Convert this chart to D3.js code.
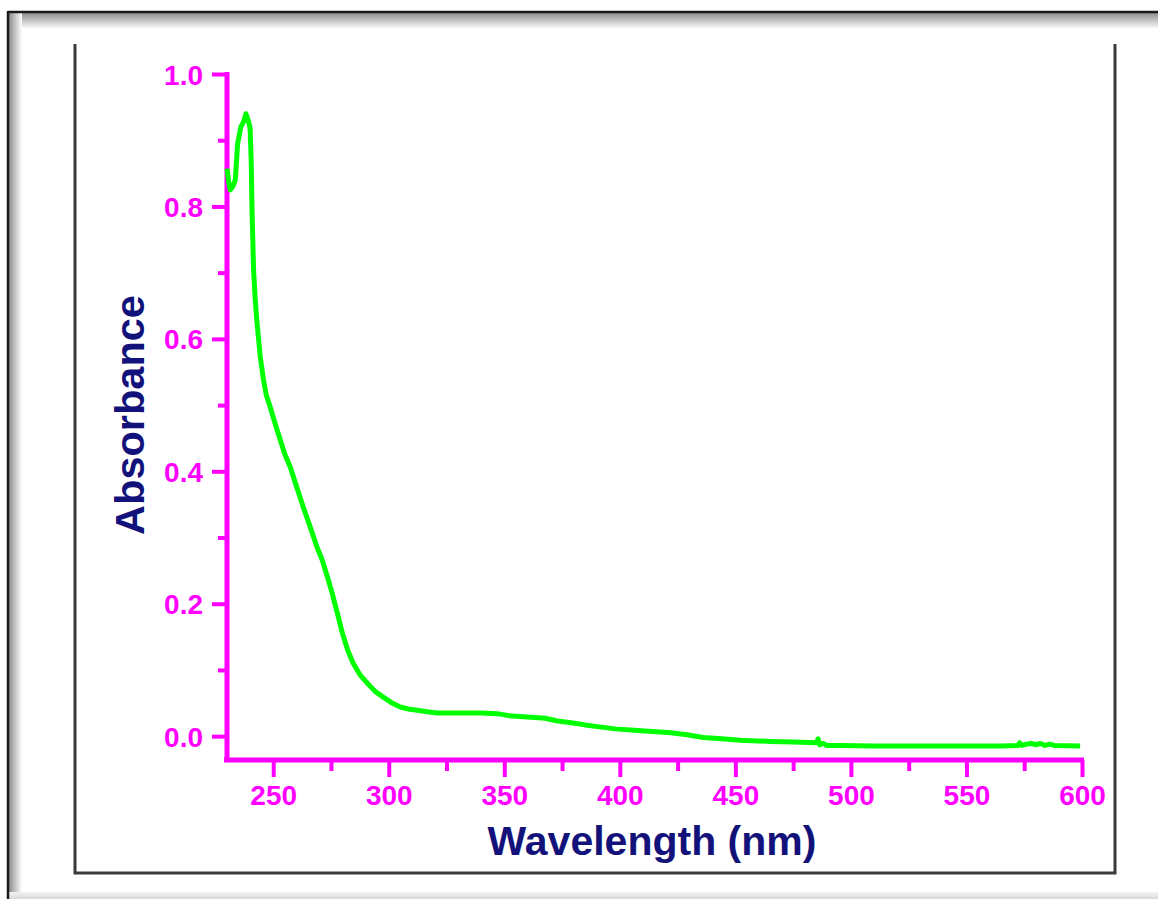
<!DOCTYPE html>
<html>
<head>
<meta charset="utf-8">
<script src="https://cdn.jsdelivr.net/npm/d3@7"></script>
<style>
  html, body { margin: 0; padding: 0; background: #ffffff; }
  svg { display: block; }
</style>
</head>
<body>
<script>
// UV-Vis absorption spectrum: wavelength (nm) vs absorbance
const wavelength = [
  230.0, 230.8, 231.4, 232.5, 233.6, 234.6, 236.0, 237.2, 238.2, 239.2,
  240.0, 240.5, 240.8, 241.5, 242.2, 242.9, 244.4, 245.8, 247.0, 248.7,
  251.0, 253.0, 255.0, 257.4, 260.0, 263.0, 266.0, 269.0, 271.2, 273.5,
  275.5, 277.8, 279.9, 282.2, 284.6, 287.5, 290.7, 294.0, 297.6, 301.0,
  305.0, 308.5, 312.3, 316.5, 321.0, 330.0, 340.0, 346.9, 352.0, 360.0,
  367.7, 373.0, 379.8, 385.0, 391.1, 398.0, 406.2, 414.0, 422.2, 429.0,
  436.1, 444.0, 452.1, 465.0, 475.0, 485.0, 485.8, 486.5, 488.0, 489.5,
  495.0, 510.0, 530.0, 550.0, 565.0, 572.4, 573.0, 574.0, 576.0, 578.0,
  580.0, 582.0, 584.0, 586.0, 588.0, 599.2
];
const absorbance = [
  0.857, 0.835, 0.825, 0.830, 0.840, 0.895, 0.920, 0.928, 0.940, 0.930,
  0.918, 0.866, 0.800, 0.704, 0.660, 0.628, 0.573, 0.538, 0.515, 0.497,
  0.470, 0.448, 0.426, 0.406, 0.378, 0.346, 0.316, 0.285, 0.266, 0.240,
  0.216, 0.185, 0.156, 0.130, 0.110, 0.093, 0.080, 0.068, 0.059, 0.051,
  0.044, 0.041, 0.039, 0.037, 0.035, 0.035, 0.035, 0.034, 0.031, 0.029,
  0.027, 0.023, 0.020, 0.017, 0.014, 0.011, 0.009, 0.007, 0.005, 0.002,
  -0.002, -0.004, -0.006, -0.008, -0.009, -0.010, -0.004, -0.013, -0.011, -0.014,
  -0.014, -0.015, -0.015, -0.015, -0.015, -0.014, -0.010, -0.014, -0.012, -0.011,
  -0.013, -0.011, -0.014, -0.012, -0.014, -0.015
];

const xMajorTicks = [250, 300, 350, 400, 450, 500, 550, 600];
const xMinorTicks = [275, 325, 375, 425, 475, 525, 575];
const yMajorTicks = [0.0, 0.2, 0.4, 0.6, 0.8, 1.0];
const yMinorTicks = [0.1, 0.3, 0.5, 0.7, 0.9];

const xTitle = "Wavelength (nm)";
const yTitle = "Absorbance";

const W = 1158, H = 899;
const AXIS = "#ff00ff";
const TITLE = "#12127a";
const LINE = "#00ff00";
const FONT = "'Liberation Sans', Arial, sans-serif";

const svg = d3.select("body").append("svg")
  .attr("width", W).attr("height", H);

const defs = svg.append("defs");
const gTop = defs.append("linearGradient").attr("id", "shadeTop")
  .attr("x1", 0).attr("y1", 0).attr("x2", 0).attr("y2", 1);
gTop.append("stop").attr("offset", "0%").attr("stop-color", "#8f8f8f");
gTop.append("stop").attr("offset", "100%").attr("stop-color", "#ffffff");
const gLeft = defs.append("linearGradient").attr("id", "shadeLeft")
  .attr("x1", 0).attr("y1", 0).attr("x2", 1).attr("y2", 0);
gLeft.append("stop").attr("offset", "0%").attr("stop-color", "#8f8f8f");
gLeft.append("stop").attr("offset", "100%").attr("stop-color", "#ffffff");
const gBot = defs.append("linearGradient").attr("id", "shadeBot")
  .attr("x1", 0).attr("y1", 0).attr("x2", 0).attr("y2", 1);
gBot.append("stop").attr("offset", "0%").attr("stop-color", "#f4f4f4");
gBot.append("stop").attr("offset", "100%").attr("stop-color", "#d8d8d8");

// page frame with inner shadow
svg.append("rect").attr("x", 9).attr("y", 13).attr("width", W - 9).attr("height", 16)
  .attr("fill", "url(#shadeTop)");
svg.append("rect").attr("x", 9).attr("y", 13).attr("width", 13).attr("height", H - 13)
  .attr("fill", "url(#shadeLeft)");
svg.append("rect").attr("x", 9).attr("y", 892).attr("width", W - 9).attr("height", 7)
  .attr("fill", "url(#shadeBot)");
svg.append("line").attr("x1", 8).attr("y1", 12).attr("x2", W).attr("y2", 12)
  .attr("stroke", "#1a1a1a").attr("stroke-width", 2.5);
svg.append("line").attr("x1", 8).attr("y1", 11).attr("x2", 8).attr("y2", H)
  .attr("stroke", "#1a1a1a").attr("stroke-width", 2.5);

// open plot frame (left, bottom, right)
svg.append("path")
  .attr("d", "M75,44 V873 H1115 V44")
  .attr("fill", "none").attr("stroke", "#3a3a3a").attr("stroke-width", 3);

// scales
const x = d3.scaleLinear().domain([230, 600]).range([227, 1082]);
const y = d3.scaleLinear().domain([-0.036, 1.0]).range([760, 74]);

// x axis
const xAxisG = svg.append("g").attr("transform", `translate(0,${y.range()[0]})`);
xAxisG.call(d3.axisBottom(x).tickValues(xMinorTicks).tickSize(11).tickFormat(""));
xAxisG.call(g => g.select(".domain").remove());
const xMajorG = svg.append("g").attr("transform", `translate(0,${y.range()[0]})`)
  .call(d3.axisBottom(x).tickValues(xMajorTicks).tickSize(17).tickSizeOuter(0)
    .tickFormat(d3.format("d")));
[xAxisG, xMajorG].forEach(g => {
  g.selectAll(".tick line").attr("stroke", AXIS).attr("stroke-width", 4);
});
xMajorG.select(".domain").attr("stroke", AXIS).attr("stroke-width", 5)
  .attr("d", `M${x.range()[0] - 3},0H${x.range()[1] + 2}`);
xMajorG.selectAll(".tick text")
  .attr("y", 25).attr("dy", "0.71em")
  .attr("fill", AXIS).attr("font-family", FONT).attr("font-weight", "bold")
  .attr("font-size", 28);

// y axis
const yAxisG = svg.append("g").attr("transform", `translate(${x.range()[0]},0)`);
yAxisG.call(d3.axisLeft(y).tickValues(yMinorTicks).tickSize(9).tickFormat(""));
yAxisG.call(g => g.select(".domain").remove());
const yMajorG = svg.append("g").attr("transform", `translate(${x.range()[0]},0)`)
  .call(d3.axisLeft(y).tickValues(yMajorTicks).tickSize(15).tickSizeOuter(0)
    .tickFormat(d3.format(".1f")));
[yAxisG, yMajorG].forEach(g => {
  g.selectAll(".tick line").attr("stroke", AXIS).attr("stroke-width", 4);
});
yMajorG.select(".domain").attr("stroke", AXIS).attr("stroke-width", 5)
  .attr("d", `M0,${y.range()[1] - 2}V${y.range()[0] + 2}`);
yMajorG.selectAll(".tick text")
  .attr("x", -24).attr("dy", "0.36em")
  .attr("fill", AXIS).attr("font-family", FONT).attr("font-weight", "bold")
  .attr("font-size", 28);

// axis titles
svg.append("text")
  .attr("transform", "translate(144,415) rotate(-90)")
  .attr("text-anchor", "middle")
  .attr("fill", TITLE).attr("font-family", FONT).attr("font-weight", "bold")
  .attr("font-size", 41.5)
  .text(yTitle);
svg.append("text")
  .attr("x", 652).attr("y", 855)
  .attr("text-anchor", "middle")
  .attr("fill", TITLE).attr("font-family", FONT).attr("font-weight", "bold")
  .attr("font-size", 41)
  .text(xTitle);

// spectrum
const points = wavelength.map((w, i) => [w, absorbance[i]]);
svg.append("path")
  .datum(points)
  .attr("fill", "none")
  .attr("stroke", LINE)
  .attr("stroke-width", 5)
  .attr("stroke-linejoin", "round")
  .attr("d", d3.line().x(d => x(d[0])).y(d => y(d[1])));
</script>
</body>
</html>
